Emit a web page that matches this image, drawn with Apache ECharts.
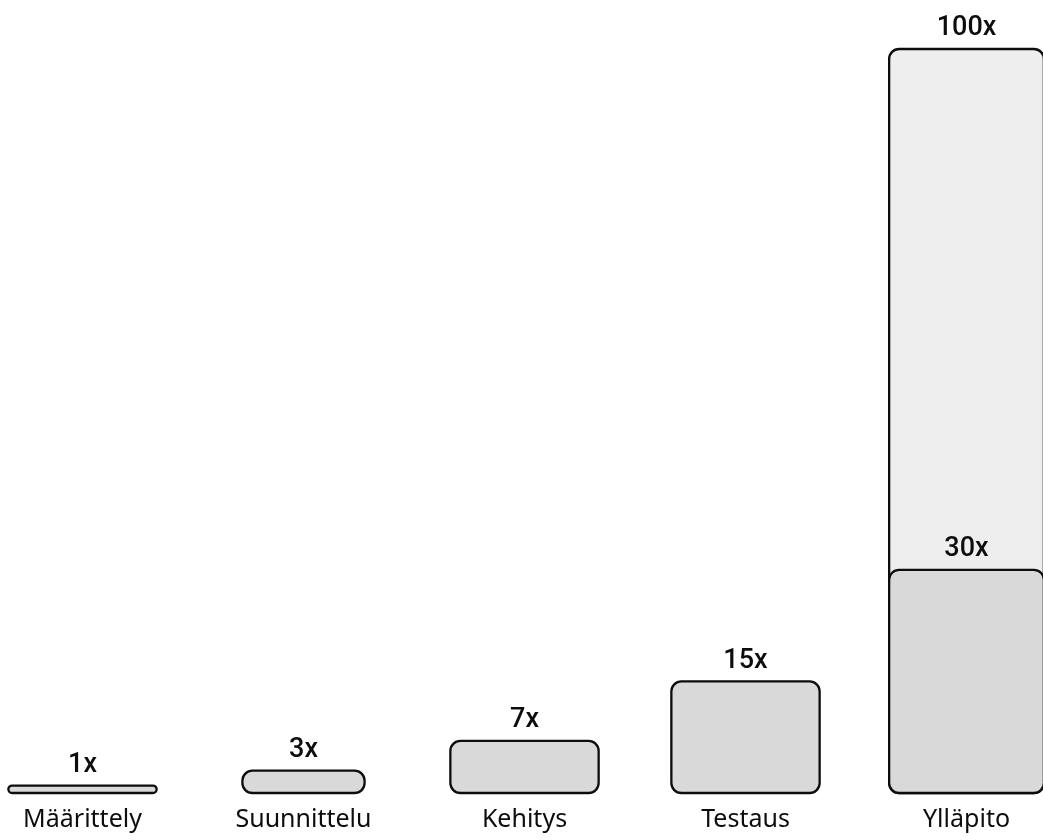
<!DOCTYPE html>
<html>
<head>
<meta charset="utf-8">
<script src="https://cdn.jsdelivr.net/npm/echarts@6/dist/echarts.min.js"></script>
<style>
  html, body { margin: 0; padding: 0; background: #ffffff; }
  #chart { width: 1043px; height: 840px; }
</style>
</head>
<body>
<div id="chart"></div>
<script>
// Software lifecycle phases and the relative cost of fixing a defect in each
const phases = ['Määrittely', 'Suunnittelu', 'Kehitys', 'Testaus', 'Ylläpito'];
const relativeCost = [1, 3, 7, 15, 30];
// Upper estimate for the maintenance phase, drawn behind its bar
const costCeiling = [null, null, null, null, 100];

// Styling
const LABEL_FONT = '"Noto Sans", "DejaVu Sans", sans-serif';
const VALUE_FONT = 'Roboto, "Noto Sans", sans-serif';
const INK = '#0d0d0d';
const BAR_FILL = '#d9d9d9';
const CEILING_FILL = '#eeeeee';
const DEFAULT_SHARE = 0.671;          // bar width as a share of the category band
const SHARE_BY_PHASE = { 'Suunnittelu': 0.553, 'Ylläpito': 0.70 };

function toPoints(values) {
  const pts = [];
  values.forEach((v, i) => { if (v != null) pts.push([i, v]); });
  return pts;
}

function barRenderer(fill) {
  return function (params, api) {
    const idx = api.value(0);
    const v = api.value(1);
    const top = api.coord([idx, v]);
    const base = api.coord([idx, 0]);
    const band = api.size([1, 0])[0];
    const share = SHARE_BY_PHASE[phases[idx]] || DEFAULT_SHARE;
    const w = band * share;
    const h = base[1] - top[1];
    const r = Math.min(10, h / 2);
    return {
      type: 'group',
      children: [
        {
          type: 'rect',
          shape: { x: top[0] - w / 2, y: top[1], width: w, height: h, r: r },
          style: { fill: fill, stroke: INK, lineWidth: 2.3 }
        },
        {
          type: 'text',
          x: top[0],
          y: top[1] - 7,
          style: {
            text: v + 'x',
            fill: INK,
            font: '500 27px ' + VALUE_FONT,
            align: 'center',
            verticalAlign: 'bottom'
          }
        }
      ]
    };
  };
}

const chart = echarts.init(document.getElementById('chart'), null, { renderer: 'canvas' });
chart.setOption({
  animation: false,
  backgroundColor: '#ffffff',
  grid: { left: -28, right: -34, top: 49, bottom: 47, outerBoundsMode: 'none', containLabel: false },
  xAxis: {
    type: 'category',
    data: phases,
    axisLine: { show: false },
    axisTick: { show: false },
    axisLabel: {
      color: INK,
      fontFamily: LABEL_FONT,
      fontSize: 25,
      fontWeight: 400,
      margin: 14,
      interval: 0
    }
  },
  yAxis: {
    type: 'value',
    min: 0,
    max: 100,
    show: false,
    splitLine: { show: false }
  },
  series: [
    {
      type: 'custom',
      name: 'ceiling',
      renderItem: barRenderer(CEILING_FILL),
      encode: { x: 0, y: 1 },
      data: toPoints(costCeiling),
      z: 1
    },
    {
      type: 'custom',
      name: 'cost',
      renderItem: barRenderer(BAR_FILL),
      encode: { x: 0, y: 1 },
      data: toPoints(relativeCost),
      z: 2
    }
  ]
});
</script>
</body>
</html>
